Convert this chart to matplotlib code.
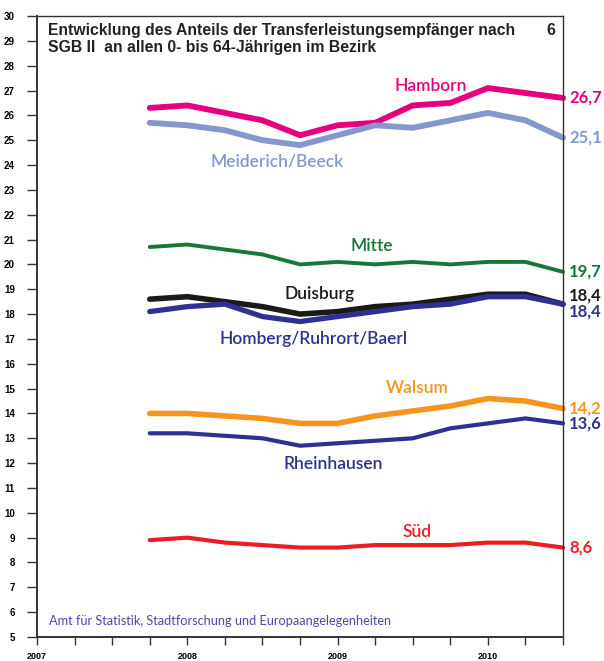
import matplotlib
matplotlib.use("Agg")
import matplotlib.pyplot as plt
import numpy as np

# quarterly values, 4th quarter 2007 ... 2nd quarter 2010
quarters = [2007.75, 2008.0, 2008.25, 2008.5, 2008.75, 2009.0,
            2009.25, 2009.5, 2009.75, 2010.0, 2010.25, 2010.5]

hamborn = [26.3, 26.4, 26.1, 25.8, 25.2, 25.6, 25.7, 26.4, 26.5, 27.1, 26.9, 26.7]
meiderich = [25.7, 25.6, 25.4, 25.0, 24.8, 25.2, 25.6, 25.5, 25.8, 26.1, 25.8, 25.1]
mitte = [20.7, 20.8, 20.6, 20.4, 20.0, 20.1, 20.0, 20.1, 20.0, 20.1, 20.1, 19.7]
duisburg = [18.6, 18.7, 18.5, 18.3, 18.0, 18.1, 18.3, 18.4, 18.6, 18.8, 18.8, 18.4]
homberg = [18.1, 18.3, 18.4, 17.9, 17.7, 17.9, 18.1, 18.3, 18.4, 18.7, 18.7, 18.4]
walsum = [14.0, 14.0, 13.9, 13.8, 13.6, 13.6, 13.9, 14.1, 14.3, 14.6, 14.5, 14.2]
rheinhausen = [13.2, 13.2, 13.1, 13.0, 12.7, 12.8, 12.9, 13.0, 13.4, 13.6, 13.8, 13.6]
sued = [8.9, 9.0, 8.8, 8.7, 8.6, 8.6, 8.7, 8.7, 8.7, 8.8, 8.8, 8.6]

names = ["Hamborn", "Meiderich/Beeck", "Mitte", "Duisburg",
         "Homberg/Ruhrort/Baerl", "Walsum", "Rheinhausen", "Süd"]
series = [hamborn, meiderich, mitte, duisburg, homberg, walsum, rheinhausen, sued]

colors = ["#e5007d", "#8497cf", "#17763a", "#1a1a1a",
          "#2e3192", "#f7941d", "#2e3192", "#ed1c24"]
widths = [4.2, 4.2, 2.8, 4.0, 3.8, 4.0, 3.0, 3.0]
# where the district names sit (x, y in data units)
name_pos = [(2009.62, 27.18), (2008.60, 24.15), (2009.23, 20.73), (2008.88, 18.79),
            (2008.84, 16.98), (2009.53, 15.04), (2008.97, 11.98), (2009.53, 9.23)]
end_shift = [0, 0, 0, 0.33, -0.28, 0, 0, 0]

fig = plt.figure(figsize=(6.04, 6.61), dpi=100)
ax = fig.add_axes([0.0613, 0.0363, 0.8709, 0.9395])

for vals, col, lw in zip(series, colors, widths):
    ax.plot(quarters, vals, color=col, lw=lw, solid_capstyle="round",
            solid_joinstyle="round", clip_on=False)

lab_font = "Lato"
for name, vals, col, pos, sh in zip(names, series, colors, name_pos, end_shift):
    ax.text(pos[0], pos[1], name, color=col, fontsize=12.5, family=lab_font,
            fontweight="semibold", ha="center", va="center")
    txt = f"{vals[-1]:.1f}".replace(".", ",")
    ax.text(2010.5 + 0.04, vals[-1] + sh, txt, color=col, fontsize=12,
            family=lab_font, fontweight="bold", ha="left", va="center")

ax.set_xlim(2007, 2010.5)
ax.set_ylim(5, 30)
ax.set_yticks(range(5, 31))
ax.set_yticklabels([str(v) for v in range(5, 31)], fontsize=7,
                   fontweight="bold", family="Liberation Sans")
xt = np.arange(2007, 2010.51, 0.25)
ax.set_xticks(xt)
ax.set_xticklabels([str(int(t)) if t == int(t) else "" for t in xt],
                   fontsize=6.5, fontweight="bold", family="Liberation Sans")
ax.tick_params(axis="y", direction="out", length=7, width=1, color="#333333", pad=9)
ax.tick_params(axis="x", direction="out", length=6, width=1, color="#333333", pad=5)
for s in ax.spines.values():
    s.set_color("#333333")
    s.set_linewidth(1)
ax.spines["left"].set_linewidth(1.4)
ax.spines["bottom"].set_linewidth(1.4)

ax.text(0.02, 0.988, "Entwicklung des Anteils der Transferleistungsempfänger nach\n"
        "SGB II  an allen 0- bis 64-Jährigen im Bezirk",
        transform=ax.transAxes, ha="left", va="top", fontsize=11.3,
        fontweight="bold", family="Liberation Sans", color="#222222",
        linespacing=1.1)
ax.text(0.985, 0.988, "6", transform=ax.transAxes, ha="right", va="top",
        fontsize=11.3, fontweight="bold", family="Liberation Sans", color="#222222")
ax.text(0.022, 0.016, "Amt für Statistik, Stadtforschung und Europaangelegenheiten",
        transform=ax.transAxes, ha="left", va="bottom", fontsize=9.2,
        family=lab_font, color="#4a4aa8")

fig.savefig("out.png", dpi=100)
